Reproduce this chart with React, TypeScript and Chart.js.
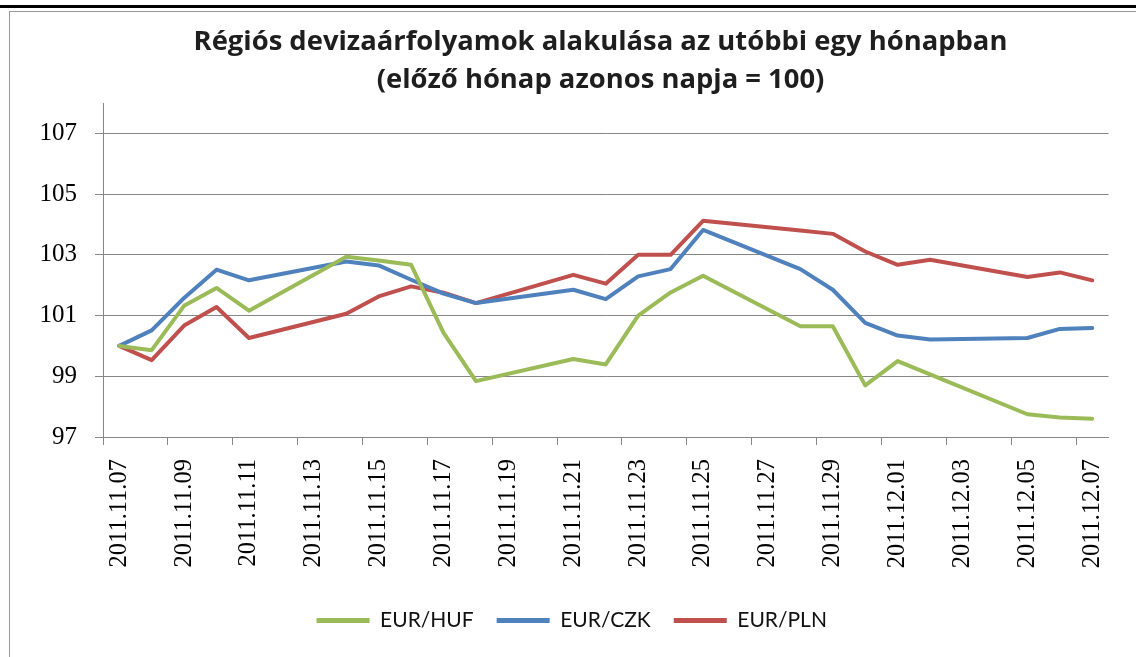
import React, { useEffect, useRef } from 'react';
import { Chart, registerables } from 'chart.js';

Chart.register(...registerables);

const dates = [
  '2011.11.07', '2011.11.08', '2011.11.09', '2011.11.10', '2011.11.11', '2011.11.12', '2011.11.13',
  '2011.11.14', '2011.11.15', '2011.11.16', '2011.11.17', '2011.11.18', '2011.11.19', '2011.11.20',
  '2011.11.21', '2011.11.22', '2011.11.23', '2011.11.24', '2011.11.25', '2011.11.26', '2011.11.27',
  '2011.11.28', '2011.11.29', '2011.11.30', '2011.12.01', '2011.12.02', '2011.12.03', '2011.12.04',
  '2011.12.05', '2011.12.06', '2011.12.07',
];

const eurHuf = [
  100.0, 99.86, 101.32, 101.91, 101.16, null, null,
  102.94, 102.81, 102.67, 100.43, 98.84, null, null,
  99.57, 99.39, 101.0, 101.76, 102.31, null, null,
  100.65, 100.65, 98.7, 99.5, 99.06, null, null,
  97.75, 97.64, 97.6,
];

const eurCzk = [
  100.0, 100.51, 101.58, 102.51, 102.16, null, null,
  102.78, 102.65, 102.18, 101.72, 101.41, null, null,
  101.85, 101.54, 102.29, 102.53, 103.82, null, null,
  102.53, 101.85, 100.76, 100.34, 100.21, null, null,
  100.26, 100.56, 100.59,
];

const eurPln = [
  100.0, 99.53, 100.67, 101.28, 100.26, null, null,
  101.06, 101.63, 101.96, 101.75, 101.41, null, null,
  102.34, 102.05, 103.0, 103.0, 104.12, null, null,
  103.8, 103.69, 103.11, 102.67, 102.84, null, null,
  102.27, 102.42, 102.16,
];

const seriesNames = ['EUR/HUF', 'EUR/CZK', 'EUR/PLN'];
const seriesColors = ['#9BBB59', '#4F81BD', '#C0504D'];
const yTickValues = [97, 99, 101, 103, 105, 107];
const titleLines = [
  'Régiós devizaárfolyamok alakulása az utóbbi egy hónapban',
  '(előző hónap azonos napja = 100)',
];

const GRID = '#868686';

export default function App() {
  const canvasRef = useRef<HTMLCanvasElement | null>(null);

  useEffect(() => {
    const canvas = canvasRef.current;
    if (!canvas) return;

    const shiftBoxes = {
      id: 'shiftBoxes',
      afterLayout(chart: any) {
        if (chart.titleBlock) chart.titleBlock.left += 76;
        if (chart.legend) chart.legend.left += 18.5;
      },
    };

    const seriesData = [eurHuf, eurCzk, eurPln];

    const chart = new Chart(canvas, {
      type: 'line',
      data: {
        labels: dates,
        datasets: seriesNames.map((name, i) => ({
          label: name,
          data: seriesData[i],
          borderColor: seriesColors[i],
          backgroundColor: seriesColors[i],
          borderWidth: 4,
          pointRadius: 0,
          pointHoverRadius: 0,
          tension: 0,
          spanGaps: true,
          borderJoinStyle: 'round' as const,
          borderCapStyle: 'round' as const,
        })),
      },
      options: {
        responsive: false,
        animation: false,
        devicePixelRatio: 1,
        layout: { padding: { left: 10, right: 21, top: 0, bottom: 16 } },
        plugins: {
          title: {
            display: true,
            text: titleLines,
            color: '#1e1e1e',
            font: { family: 'Open Sans', size: 27.4, weight: 'bold', lineHeight: 38 / 27.4 },
            padding: { top: 23, bottom: 4 },
          },
          legend: {
            position: 'bottom',
            labels: {
              boxWidth: 53,
              boxHeight: 5,
              padding: 23,
              color: '#111',
              font: { family: 'Lato', size: 21 },
              generateLabels: (c: any) =>
                c.data.datasets.map((ds: any, i: number) => ({
                  text: ds.label,
                  fillStyle: ds.borderColor,
                  strokeStyle: ds.borderColor,
                  lineWidth: 0,
                  hidden: false,
                  datasetIndex: i,
                  fontColor: '#111',
                })),
            },
          },
          tooltip: { enabled: false },
        },
        scales: {
          x: {
            offset: true,
            grid: {
              offset: true,
              drawOnChartArea: false,
              tickLength: 8,
              tickColor: (ctx: any) =>
                typeof ctx.index === 'number' && ctx.index % 2 === 0 ? GRID : 'rgba(0,0,0,0)',
            },
            border: { color: GRID, width: 1 },
            ticks: {
              autoSkip: false,
              minRotation: 90,
              maxRotation: 90,
              padding: 14,
              color: '#000',
              font: { family: 'Liberation Serif', size: 24.5 },
              callback: (_v: any, i: number) => (i % 2 === 0 ? dates[i] : ''),
            },
            afterFit: (s: any) => {
              s.height = 150;
            },
          },
          y: {
            min: 97,
            max: 108,
            ticks: {
              stepSize: 2,
              padding: 18,
              color: '#000',
              font: { family: 'Liberation Serif', size: 25 },
            },
            afterBuildTicks: (s: any) => {
              s.ticks = yTickValues.map((v) => ({ value: v }));
            },
            afterFit: (s: any) => {
              s.width = 93;
            },
            grid: { color: GRID, lineWidth: 1, tickLength: 8 },
            border: { color: GRID, width: 1 },
          },
        },
      },
      plugins: [shiftBoxes],
    } as any);

    return () => chart.destroy();
  }, []);

  return (
    <div style={{ position: 'relative', width: 1136, height: 657, background: '#fff', overflow: 'hidden' }}>
      <style>{'body{margin:0;background:#fff}'}</style>
      <canvas ref={canvasRef} width={1136} height={657} style={{ display: 'block' }} />
      <div style={{ position: 'absolute', left: 0, top: 5, width: 1136, height: 3, background: '#000' }} />
      <div style={{ position: 'absolute', left: 9, top: 11, width: 1127, height: 1, background: '#999' }} />
      <div style={{ position: 'absolute', left: 9, top: 11, width: 1, height: 646, background: '#999' }} />
    </div>
  );
}
